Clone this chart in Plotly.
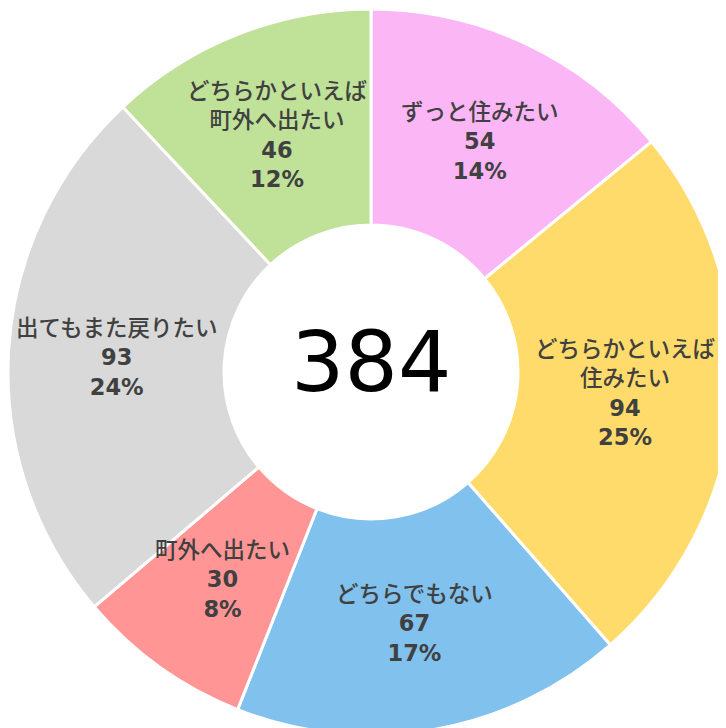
import math
import plotly.graph_objects as go

labels = ["ずっと住みたい", "どちらかといえば<br>住みたい", "どちらでもない", "町外へ出たい",
          "出てもまた戻りたい", "どちらかといえば<br>町外へ出たい"]
values = [54, 94, 67, 30, 93, 46]
percents = [14, 25, 17, 8, 24, 12]
colors = ["#FBB6F6", "#FFDB6B", "#80C1EE", "#FF9595", "#D9D9D9", "#BFE198"]
total_label = str(sum(values))

W, H = 726, 728
HOLE = 0.405

fig = go.Figure(go.Pie(
    labels=labels,
    values=values,
    hole=HOLE,
    sort=False,
    direction="clockwise",
    rotation=0,
    marker=dict(colors=colors, line=dict(color="white", width=3)),
    textinfo="none",
    showlegend=False,
))

# slice labels placed at the middle of the ring, at each slice's mid-angle
total = sum(values)
radius_px = min(W, H) / 2
label_r = radius_px * (1 + HOLE) / 2
font = dict(family="DejaVu Sans, Noto Sans CJK JP", size=22.5, color="#404040", weight=500)
annotations = []
cum = 0
for lab, v, p in zip(labels, values, percents):
    mid = (cum + v / 2) / total * 2 * math.pi
    cum += v
    annotations.append(dict(
        text=f"{lab}<br><b>{v}</b><br><b>{p}%</b>",
        x=0.5 + label_r * math.sin(mid) / W,
        y=0.5 + label_r * math.cos(mid) / H,
        xref="paper", yref="paper", showarrow=False,
        xanchor="center", yanchor="middle", font=font,
    ))
annotations.append(dict(text=total_label, x=0.5, y=0.5, xref="paper", yref="paper",
                        showarrow=False, yshift=10,
                        font=dict(family="DejaVu Sans", size=84, color="black", weight="normal")))

fig.update_layout(
    width=W, height=H,
    margin=dict(l=0, r=0, t=0, b=0),
    paper_bgcolor="white",
    annotations=annotations,
)
fig.write_html("out.html")
